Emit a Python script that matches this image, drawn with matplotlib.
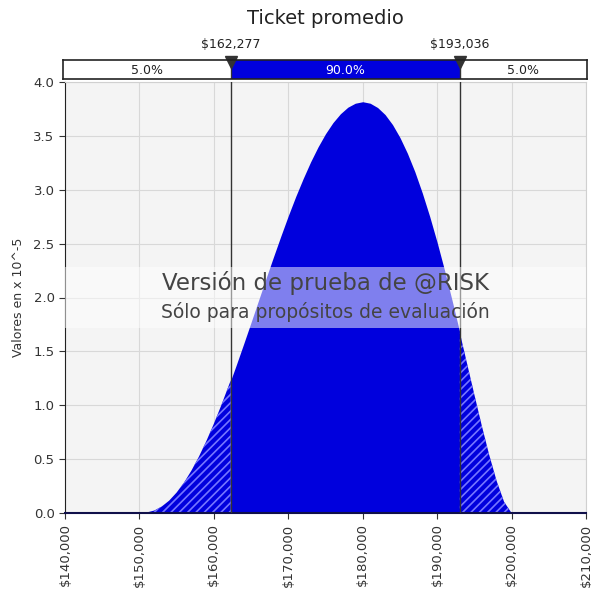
import matplotlib
matplotlib.use('Agg')
import matplotlib.pyplot as plt
from matplotlib.ticker import FuncFormatter

# densidad (valores en x 10^-5)
x_vals = [140000, 150000, 151000, 152000, 153000, 154000, 155000, 156000, 157000, 158000,
          159000, 160000, 161000, 162000, 162277, 163000, 164000, 165000, 166000, 167000,
          168000, 169000, 170000, 171000, 172000, 173000, 174000, 175000, 176000, 177000,
          178000, 179000, 180000, 181000, 182000, 183000, 184000, 185000, 186000, 187000,
          188000, 189000, 190000, 191000, 192000, 193000, 193036, 194000, 195000, 196000,
          197000, 198000, 199000, 200000, 210000]
dens = [0.0, 0.0, 0.005, 0.023, 0.060, 0.115, 0.190, 0.283, 0.395, 0.524,
        0.669, 0.828, 1.000, 1.182, 1.233, 1.372, 1.569, 1.770, 1.973, 2.176,
        2.375, 2.570, 2.759, 2.938, 3.104, 3.259, 3.398, 3.520, 3.623, 3.705,
        3.766, 3.803, 3.817, 3.803, 3.763, 3.698, 3.605, 3.485, 3.339, 3.168,
        2.971, 2.752, 2.511, 2.251, 1.975, 1.688, 1.677, 1.393, 1.099, 0.810,
        0.538, 0.296, 0.103, 0.0, 0.0]

p_left = 162277
p_right = 193036
pct_labels = ['5.0%', '90.0%', '5.0%']
title = 'Ticket promedio'

blue = '#0000dd'

fig = plt.figure(figsize=(5.91, 5.92), dpi=100)
W, H = 591, 592
ax = fig.add_axes([65 / W, (H - 513) / H, 521 / W, 431 / H])
ax.set_facecolor('#f4f4f4')

ax.fill_between(x_vals, dens, where=[(v >= p_left and v <= p_right) for v in x_vals],
                color=blue, lw=0, zorder=2)
plt.rcParams['hatch.linewidth'] = 1.2
ax.fill_between(x_vals, dens, where=[v <= p_left for v in x_vals],
                facecolor=blue, edgecolor='#7676ff', hatch='////', lw=0, zorder=2)
ax.fill_between(x_vals, dens, where=[v >= p_right for v in x_vals],
                facecolor=blue, edgecolor='#7676ff', hatch='////', lw=0, zorder=2)

ax.set_xlim(140000, 210000)
ax.set_ylim(0, 4.0)
ax.set_xticks(range(140000, 210001, 10000))
ax.set_yticks([0, 0.5, 1.0, 1.5, 2.0, 2.5, 3.0, 3.5, 4.0])
ax.xaxis.set_major_formatter(FuncFormatter(lambda v, p: '${:,.0f}'.format(v)))
ax.yaxis.set_major_formatter(FuncFormatter(lambda v, p: '{:.1f}'.format(v)))
ax.tick_params(axis='x', rotation=90, labelsize=9.5, colors='#333333', length=4)
ax.tick_params(axis='y', labelsize=9.5, colors='#333333', length=4)
ax.grid(True, color='#d8d8d8', lw=0.8, zorder=0)
ax.set_axisbelow(True)
ax.set_ylabel('Valores en x 10^-5', fontsize=9, color='#333333', labelpad=6)

for s in ['top', 'right']:
    ax.spines[s].set_color('#d0d0d0')
ax.spines['left'].set_color('#222222')
ax.spines['bottom'].set_color('#10104a')
ax.spines['bottom'].set_linewidth(1.5)

for p in [p_left, p_right]:
    ax.axvline(p, color='#333333', lw=1, zorder=3)

# franja de la marca de agua
ax.axhspan(1.72, 2.28, color='white', alpha=0.5, lw=0, zorder=4)
ax.text(0.5, 0.533, 'Versión de prueba de @RISK', transform=ax.transAxes, ha='center',
        va='center', fontsize=16.5, color='#444444', zorder=5)
ax.text(0.5, 0.466, 'Sólo para propósitos de evaluación', transform=ax.transAxes, ha='center',
        va='center', fontsize=13.5, color='#444444', zorder=5)

# barra superior de percentiles
bx = fig.add_axes([63 / W, (H - 79) / H, 524 / W, 19 / H])
bx.set_xlim(140000 - 2 * 70000 / 521, 210000 + 1 * 70000 / 521)
bx.set_ylim(0, 1)
bx.set_xticks([])
bx.set_yticks([])
bx.axvspan(p_left, p_right, color=blue, lw=0)
for s in bx.spines.values():
    s.set_color('#222222')
    s.set_linewidth(1.2)
lo, hi = bx.get_xlim()
bx.text((lo + p_left) / 2, 0.45, pct_labels[0], ha='center', va='center', fontsize=9, color='#222222')
bx.text((p_left + p_right) / 2, 0.45, pct_labels[1], ha='center', va='center', fontsize=9, color='white')
bx.text((p_right + hi) / 2, 0.45, pct_labels[2], ha='center', va='center', fontsize=9, color='#222222')
for p in [p_left, p_right]:
    bx.axvline(p, color='#333333', lw=1)
    bx.plot([p], [0.92], marker='v', markersize=8, color='#333333', clip_on=False)
    bx.text(p, 1.5, '${:,.0f}'.format(p), ha='center', va='bottom', fontsize=9, color='#222222')

fig.text(325.5 / W, 1 - 18 / H, title, ha='center', va='center', fontsize=14, color='#222222')

fig.savefig('out.png', dpi=100, facecolor='white')
